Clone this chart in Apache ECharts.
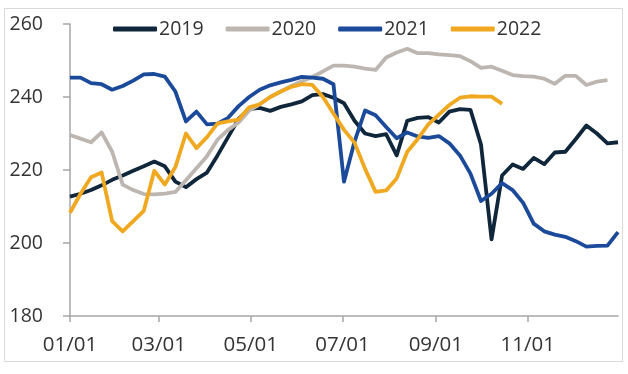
<!DOCTYPE html>
<html><head><meta charset="utf-8">
<script src="https://cdn.jsdelivr.net/npm/echarts@6/dist/echarts.min.js"></script>
<style>html,body{margin:0;padding:0;background:#fff}#c{width:628px;height:374px}</style>
</head><body><div id="c"></div>
<script>
// weekly sample dates (MM/DD)
const weekDates = ['01/01','01/08','01/15','01/22','01/29','02/05','02/12','02/19','02/26','03/05','03/12','03/19','03/26','04/02','04/09','04/16','04/23','04/30','05/07','05/14','05/21','05/28','06/04','06/11','06/18','06/25','07/02','07/09','07/16','07/23','07/30','08/06','08/13','08/20','08/27','09/03','09/10','09/17','09/24','10/01','10/08','10/15','10/22','10/29','11/05','11/12','11/19','11/26','12/03','12/10','12/17','12/24','12/31'];
const xTickLabels = ['01/01','03/01','05/01','07/01','09/01','11/01'];
const yTicks = [180, 200, 220, 240, 260];
const seriesNames = ['2019','2020','2021','2022'];
const v2019 = [212.7,213.5,214.5,215.8,217.3,218.5,219.8,221,222.3,221,216.8,215.3,217.5,219.3,224,229,234,236.7,237,236.2,237.3,238,238.8,240.5,240.8,239.8,238.3,233.5,230,229.3,229.8,224,233.5,234.3,234.5,233,236,236.7,236.5,227,201,218.5,221.5,220.3,223.3,221.6,224.8,225,228.5,232.2,230,227.3,227.6];
const v2020 = [229.6,228.6,227.6,230.3,225,216,214.5,213.4,213.3,213.5,214,217.2,220.5,223.8,228.3,231,233,236.3,238,240,241.5,243,244.3,245.5,247,248.6,248.6,248.3,247.8,247.4,250.8,252.2,253.2,252,252,251.7,251.5,251.2,249.8,248,248.3,247.2,246,245.7,245.6,245,243.6,245.8,245.8,243.3,244.2,244.6,null];
const v2021 = [245.3,245.3,243.8,243.5,242,243,244.5,246.2,246.3,245.6,241.5,233.3,236,232.5,232.7,234.3,237.5,240,242,243.2,244,244.7,245.5,245.3,245,243.5,216.8,227.8,236.3,235,231.8,228.7,230.3,229.2,228.8,229.3,227.3,224,219,211.5,213.5,216.4,214.5,211,205.3,203.2,202.3,201.7,200.5,199,199.2,199.3,203];
const v2022 = [208.3,213.5,218,219.3,206,203.2,206,208.8,219.8,216,220.8,230,226,229,232.8,233.3,233.8,237.2,238,240,241.5,242.8,243.5,243.3,240,235.5,231,227.5,220.3,214,214.4,217.7,225,228.5,232.5,235.2,237.8,239.8,240.2,240.1,240.1,238.1,null,null,null,null,null,null,null,null,null,null,null];
const colors = ['#10263a','#bdb6b0','#1b4a9a','#f0a820'];

// daily category axis for a 365-day year
const days = [];
for (let d = 0; d < 365; d++) {
  const dt = new Date(Date.UTC(2019, 0, 1 + d));
  days.push(String(dt.getUTCMonth() + 1).padStart(2, '0') + '/' + String(dt.getUTCDate()).padStart(2, '0'));
}
const showTick = (idx, val) => xTickLabels.indexOf(days[idx]) >= 0;
const toData = vals => vals.map((v, i) => v == null ? null : [days.indexOf(weekDates[i]), v]).filter(p => p);
const allVals = [v2019, v2020, v2021, v2022];

const chart = echarts.init(document.getElementById('c'), null, {renderer: 'canvas'});
chart.setOption({
  animation: false,
  backgroundColor: '#fff',
  graphic: [{type: 'rect', shape: {x: 4.5, y: 8.5, width: 618, height: 353}, style: {fill: 'none', stroke: '#d9d9d9', lineWidth: 1}, silent: true}],
  legend: {
    top: 14, left: 108, itemWidth: 44, itemHeight: 5, itemGap: 22, icon: 'roundRect',
    textStyle: {fontFamily: 'Open Sans', fontSize: 19.5, color: '#333', padding: [0, 0, 0, -3]},
    data: seriesNames
  },
  grid: {left: 70, right: 10, top: 24, bottom: 58, containLabel: false},
  xAxis: {
    type: 'category', data: days, boundaryGap: false,
    axisLine: {lineStyle: {color: '#a6a6a6', width: 1.5}},
    axisTick: {interval: showTick, length: 6, lineStyle: {color: '#a6a6a6', width: 1.5}},
    axisLabel: {interval: showTick, margin: 19, fontFamily: 'Open Sans', fontSize: 20.5, color: '#333'},
    splitLine: {show: false}
  },
  yAxis: {
    type: 'value', min: yTicks[0], max: yTicks[yTicks.length - 1], interval: 20,
    axisLine: {show: true, lineStyle: {color: '#a6a6a6', width: 1.5}},
    axisTick: {show: true, length: 7, lineStyle: {color: '#a6a6a6', width: 1.5}},
    axisLabel: {margin: 27, fontFamily: 'Open Sans', fontSize: 19.5, color: '#333'},
    splitLine: {show: false}
  },
  series: seriesNames.map((n, k) => ({
    name: n, type: 'line', data: toData(allVals[k]), showSymbol: false, symbol: 'none',
    color: colors[k], lineStyle: {width: 3.8, color: colors[k], join: 'round'}, z: k === 3 ? 4 : (k === 1 ? 1 : k + 1)
  }))
});
</script></body></html>
